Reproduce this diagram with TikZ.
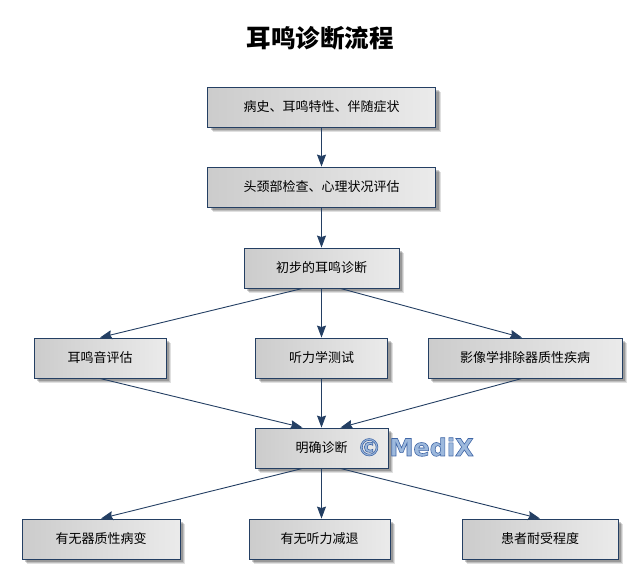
\documentclass[tikz,border=0pt]{standalone}
\usepackage{fontspec}
\setmainfont{Noto Sans CJK SC}
\newfontfamily\wmfont{DejaVu Sans}
\usetikzlibrary{arrows.meta,shadows}
\definecolor{lineColor}{HTML}{243F63}
\definecolor{wmColor}{HTML}{9DB9DD}
\newcommand{\wmoutline}{\special{pdf:code 0.25 0.4 0.65 RG 2 Tr 0.6 w}}
\tikzset{
	softshadow/.style={
		drop shadow={shadow xshift=5pt,shadow yshift=-5pt,opacity=.12,fill=black,draw=none},
		drop shadow={shadow xshift=4pt,shadow yshift=-4pt,opacity=.15,fill=black,draw=none},
		drop shadow={shadow xshift=3pt,shadow yshift=-3pt,opacity=.2,fill=black,draw=none}},
	flowbox/.style={draw=lineColor,line width=0.9pt,left color=black!20,right color=black!8,
		minimum height=40pt,inner sep=0pt,font=\fontsize{13}{15}\selectfont,softshadow},
	link/.style={draw=lineColor,line width=0.9pt,-{Stealth[length=12pt,width=9pt,inset=1.5pt]}}
}
\begin{document}
\begin{tikzpicture}[x=1pt,y=-1pt]
	\useasboundingbox (0,0) rectangle (642,563);
	\node[font=\fontsize{24.5}{28}\selectfont\bfseries] (title) at (320,38) {耳鸣诊断流程};
	
	\node[flowbox,minimum width=228pt] (hist) at (321.5,107) {病史、耳鸣特性、伴随症状};
	\node[flowbox,minimum width=228pt] (exam) at (321.5,187) {头颈部检查、心理状况评估};
	\node[flowbox,minimum width=155pt] (prelim) at (321.5,268) {初步的耳鸣诊断};
	\node[flowbox,minimum width=132pt] (tone) at (100,358) {耳鸣音评估};
	\node[flowbox,minimum width=132pt] (audio) at (321.5,358) {听力学测试};
	\node[flowbox,minimum width=194pt] (image) at (525,358) {影像学排除器质性疾病};
	\node[flowbox,minimum width=133pt] (dx) at (321.5,448) {明确诊断};
	\node[flowbox,minimum width=158pt] (organic) at (101,539) {有无器质性病变};
	\node[flowbox,minimum width=141pt] (hearing) at (319.5,539) {有无听力减退};
	\node[flowbox,minimum width=156pt] (tolerance) at (540,539) {患者耐受程度};
	
	\draw[link] (hist) -- (exam);
	\draw[link] (exam) -- (prelim);
	\draw[link] ([xshift=-19pt]prelim.south) -- (tone.north);
	\draw[link] (prelim) -- (audio);
	\draw[link] ([xshift=19pt]prelim.south) -- ([xshift=-3pt]image.north);
	\draw[link] (tone.south) -- ([xshift=-19pt]dx.north);
	\draw[link] (audio) -- (dx);
	\draw[link] ([xshift=-3pt]image.south) -- ([xshift=19pt]dx.north);
	\draw[link] ([xshift=-19pt]dx.south) -- (organic.north);
	\draw[link] (dx.south) -- ([xshift=2pt]hearing.north);
	\draw[link] ([xshift=19pt]dx.south) -- (tolerance.north);
	
	% watermark
	\node[font=\wmfont\fontsize{24}{28}\selectfont\bfseries,text=wmColor,inner sep=0pt,anchor=west] (mark) at (357,447) {\wmoutline © MediX};
\end{tikzpicture}
\end{document}
